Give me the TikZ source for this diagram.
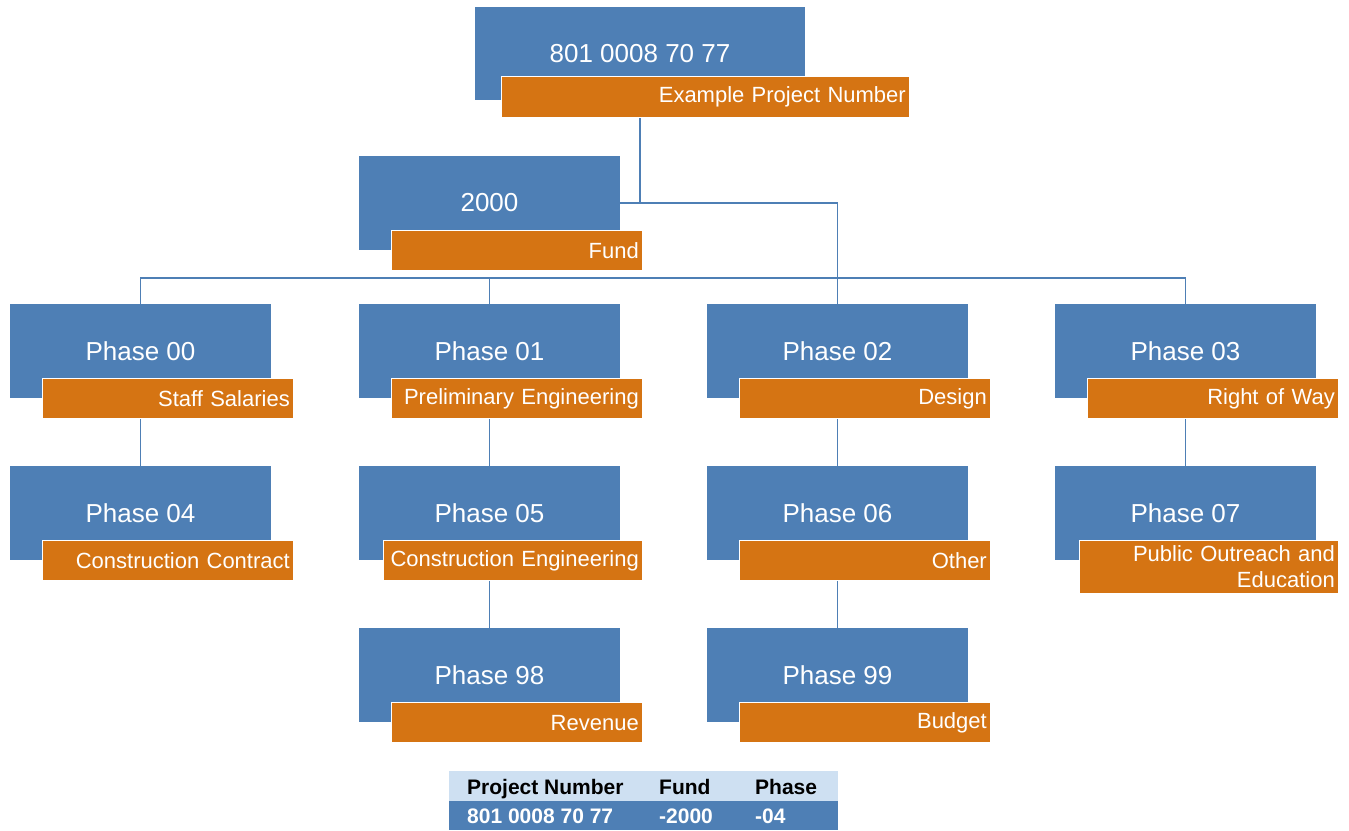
\documentclass[tikz,border=0pt]{standalone}
\usepackage{fontspec}
\setmainfont{Liberation Sans}
\usetikzlibrary{backgrounds}
\definecolor{wbsblue}{RGB}{78,127,181}
\definecolor{wbsorange}{RGB}{213,116,19}
\definecolor{wbslight}{RGB}{206,224,242}
\begin{document}
\begin{tikzpicture}[x=1pt,y=-1pt,
	phase/.style={rectangle, fill=wbsblue, text=white, inner sep=0pt,
		minimum width=261pt, minimum height=94pt,
		font=\fontsize{26}{30}\selectfont},
	tag/.style={rectangle, fill=wbsorange, draw=white, line width=0.8pt,
		text=white, inner xsep=4pt, inner ysep=0pt, text width=243pt,
		minimum height=40pt, align=right, anchor=north east,
		xshift=23pt, yshift=20pt, font=\fontsize{22}{26}\selectfont},
	link/.style={draw=wbsblue, line width=1.8pt},
	cell/.style={anchor=base west, inner sep=0pt, font=\bfseries\fontsize{21}{24}\selectfont}]
\useasboundingbox (0,0) rectangle (1349,830);
% top level
\node[phase, minimum width=330pt, minimum height=93pt] (top) at (640,53.5) {801 0008 70 77};
\node[tag, text width=400pt, minimum height=41pt, xshift=82pt, yshift=4pt] (ttop) at (top.south east) {Example Project Number};
\node[phase] (fund) at (489.5,203) {2000};
\node[tag] (tfund) at (fund.south east) {Fund};
% phases
\node[phase] (p00) at (140.5,351) {Phase 00};
\node[tag] (t00) at (p00.south east) {Staff Salaries};
\node[phase] (p01) at (489.5,351) {Phase 01};
\node[tag] (t01) at (p01.south east) {Preliminary Engineering};
\node[phase] (p02) at (837.5,351) {Phase 02};
\node[tag] (t02) at (p02.south east) {Design};
\node[phase] (p03) at (1185.5,351) {Phase 03};
\node[tag] (t03) at (p03.south east) {Right of Way};
\node[phase] (p04) at (140.5,513) {Phase 04};
\node[tag] (t04) at (p04.south east) {Construction Contract};
\node[phase] (p05) at (489.5,513) {Phase 05};
\node[tag, text width=251pt] (t05) at (p05.south east) {Construction Engineering};
\node[phase] (p06) at (837.5,513) {Phase 06};
\node[tag] (t06) at (p06.south east) {Other};
\node[phase] (p07) at (1185.5,513) {Phase 07};
\node[tag, text width=251pt, minimum height=53pt] (t07) at (p07.south east) {Public Outreach and\\Education};
\node[phase] (p98) at (489.5,675) {Phase 98};
\node[tag] (t98) at (p98.south east) {Revenue};
\node[phase] (p99) at (837.5,675) {Phase 99};
\node[tag] (t99) at (p99.south east) {Budget};
% connectors
\begin{scope}[on background layer]
	\draw[link] (top) |- (fund.east);
	\draw[link] (fund.east) -| (p02.north);
	\draw[link] (p00.north) -- ++(0pt,26pt) -| (p03.north);
	\draw[link] (p01.north) -- ++(0pt,26pt);
	\draw[link] (p00) -- (p04);
	\draw[link] (p01) -- (p05) -- (p98);
	\draw[link] (p02) -- (p06) -- (p99);
	\draw[link] (p03) -- (p07);
\end{scope}
% key
\fill[wbslight] (449,771) rectangle (838,801);
\fill[wbsblue] (449,801) rectangle (838,830);
\node[cell] (hnum) at (467,794) {Project Number};
\node[cell] (hfund) at (659,794) {Fund};
\node[cell] (hphase) at (755,794) {Phase};
\node[cell, text=white] (vnum) at (467,823) {801 0008 70 77};
\node[cell, text=white] (vfund) at (659,823) {-2000};
\node[cell, text=white] (vphase) at (755,823) {-04};
\end{tikzpicture}
\end{document}
